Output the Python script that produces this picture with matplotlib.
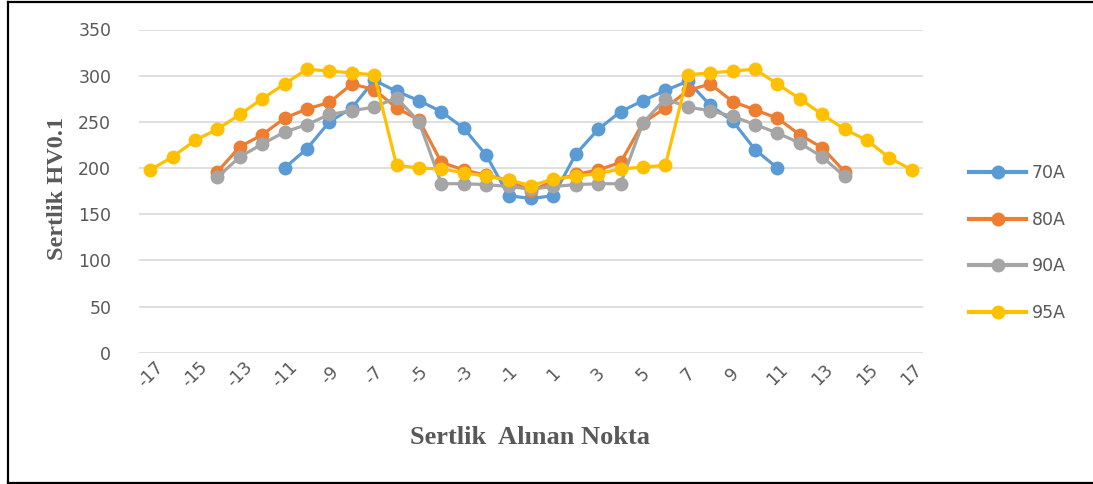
import numpy as np
import matplotlib
matplotlib.use("Agg")
import matplotlib.pyplot as plt
from matplotlib.lines import Line2D

nan = np.nan

# hardness measurement points
points = list(range(-17, 18))
tick_pos = list(range(-17, 18, 2))
tick_labels = [str(v) for v in tick_pos]

hv_70A = [nan, nan, nan, nan, nan, nan,
          200, 221, 250, 265, 295, 283, 273, 261, 243, 214, 170,
          167,
          170, 215, 242, 261, 273, 284, 294, 268, 251, 220, 200,
          nan, nan, nan, nan, nan, nan]
hv_80A = [nan, nan, nan,
          196, 223, 236, 254, 264, 271, 291, 285, 265, 252, 206, 198, 192, 187,
          175,
          186, 193, 198, 206, 249, 265, 284, 291, 272, 263, 254, 236, 222, 196,
          nan, nan, nan]
hv_90A = [nan, nan, nan,
          190, 212, 226, 239, 247, 258, 262, 266, 276, 250, 183, 183, 182, 180,
          177,
          180, 182, 183, 183, 249, 275, 266, 262, 256, 247, 238, 227, 212, 191,
          nan, nan, nan]
hv_95A = [198, 212, 230, 242, 258, 275, 291, 307, 305, 303, 301, 203, 200, 199, 195, 191, 187,
          181,
          188, 191, 194, 199, 201, 203, 301, 303, 305, 307, 291, 275, 258, 242, 230, 211, 198]

series = [("70A", hv_70A, "#5B9BD5"),
          ("80A", hv_80A, "#ED7D31"),
          ("90A", hv_90A, "#A5A5A5"),
          ("95A", hv_95A, "#FFC000")]

fig = plt.figure(figsize=(10.93, 4.84), dpi=100)
ax = fig.add_axes([139/1093, 1-352.7/484, (923-139)/1093, (352.7-29.5)/484])

for name, vals, col in series:
    ax.plot(points, vals, color=col, lw=2.3, marker="o", ms=10,
            markeredgewidth=0, label=name)

ax.set_xlim(-17.5, 17.5)
ax.set_ylim(0, 350)
ax.set_yticks(range(0, 351, 50))
ax.yaxis.grid(True, color="#D9D9D9", lw=1.2)
ax.set_axisbelow(True)
for s in ax.spines.values():
    s.set_visible(False)
ax.tick_params(length=0, colors="#595959", labelsize=12.5)
ax.set_xticks(tick_pos)
ax.set_xticklabels(tick_labels, rotation=45, ha="center", va="center",
                   fontsize=12.5, color="#595959")
ax.tick_params(axis="x", pad=16)
ax.tick_params(axis="y", pad=20)

ax.set_ylabel("Sertlik HV0.1", family="Liberation Serif", fontweight="bold",
              fontsize=17.5, color="#595959")
ax.yaxis.set_label_coords(-(139-68)/784, 1-(188-29.5)/323.2)
fig.text(530/1093, 1-437/484, "Sertlik  Alınan Nokta", family="Liberation Serif",
         fontweight="bold", fontsize=19, color="#595959", ha="center", va="center")

handles = [Line2D([], [], color=c, lw=3, marker="o", ms=10, markeredgewidth=0)
           for _, _, c in series]
fig.legend(handles, [n for n, _, _ in series], loc="center left",
           bbox_to_anchor=(969/1093, 1-243/484), frameon=False, fontsize=12.5,
           labelspacing=1.65, handlelength=3.3, handletextpad=0.3,
           borderpad=0, borderaxespad=0, labelcolor="#595959")

# outer frame
fig.add_artist(Line2D([8/1093, 8/1093], [1-1.5/484, 1-482.5/484], color="black", lw=1.6))
fig.add_artist(Line2D([8/1093, 1], [1-1.5/484, 1-1.5/484], color="black", lw=1.6))
fig.add_artist(Line2D([8/1093, 1], [1-482.5/484, 1-482.5/484], color="black", lw=1.6))

fig.savefig("out.png", dpi=100)
